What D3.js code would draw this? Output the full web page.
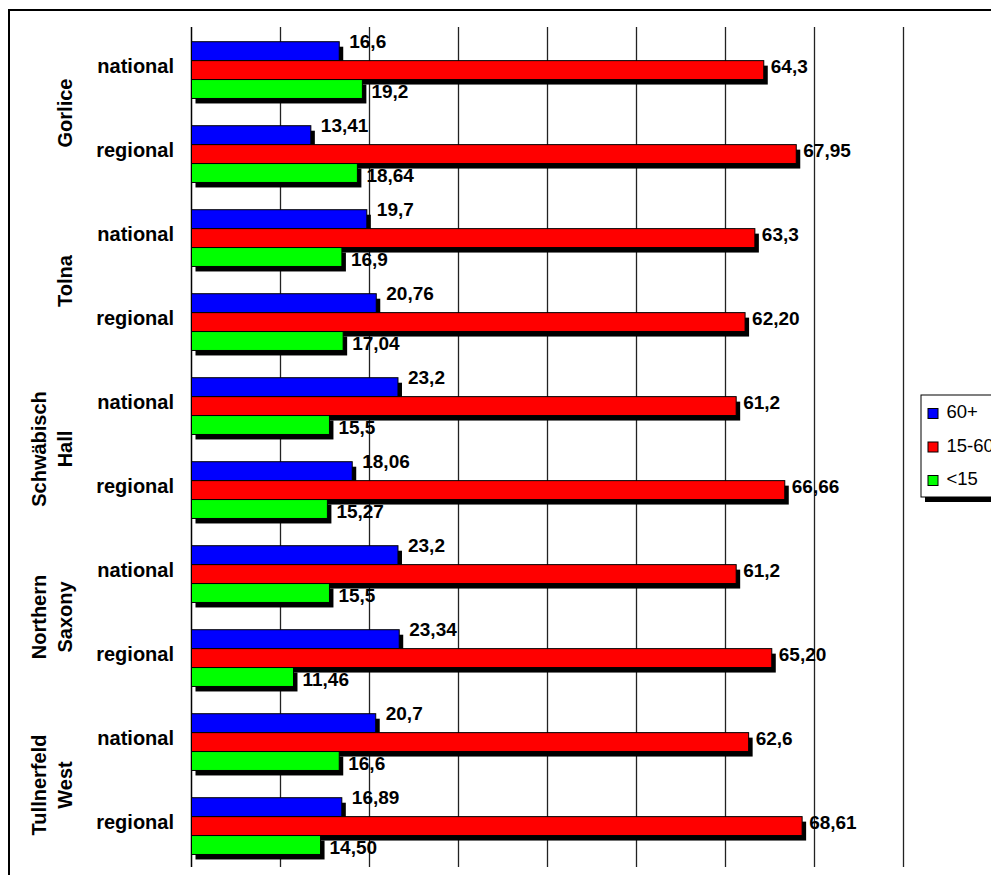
<!DOCTYPE html>
<html>
<head>
<meta charset="utf-8">
<script src="https://cdn.jsdelivr.net/npm/d3@7"></script>
<style>
  body { margin: 0; background: #fff; }
  text { font-family: "Liberation Sans", Arial, sans-serif; }
</style>
</head>
<body>
<div id="chart"></div>
<script>
// regions, each one shown twice (national / regional figures)
var regions = ["Gorlice", "Tolna", "Schwäbisch Hall", "Northern Saxony", "Tullnerfeld West"];
var levels = ["national", "regional"];
var series = ["60+", "15-60", "<15"];
var colors = ["#0000ff", "#ff0000", "#00ff00"];

// values per category row, top to bottom
var old60 = [16.6, 13.41, 19.7, 20.76, 23.2, 18.06, 23.2, 23.34, 20.7, 16.89];
var mid1560 = [64.3, 67.95, 63.3, 62.20, 61.2, 66.66, 61.2, 65.20, 62.6, 68.61];
var young15 = [19.2, 18.64, 16.9, 17.04, 15.5, 15.27, 15.5, 11.46, 16.6, 14.50];
var xTicks = [0, 10, 20, 30, 40, 50, 60, 70, 80];

var W = 991, H = 875;
var svg = d3.select("#chart").append("svg")
  .attr("width", W).attr("height", H);

// outer chart frame (runs off the right and bottom of the picture)
svg.append("rect")
  .attr("x", 9).attr("y", 10)
  .attr("width", 1000).attr("height", 900)
  .attr("fill", "#fff").attr("stroke", "#000").attr("stroke-width", 2);

// build rows
var rows = [];
regions.forEach(function(r, gi) {
  levels.forEach(function(l, li) {
    var i = gi * 2 + li;
    rows.push({ id: r + "|" + l, region: r, level: l,
                vals: [old60[i], mid1560[i], young15[i]] });
  });
});

var x = d3.scaleLinear().domain([0, 80]).range([191.5, 903.5]);
var y0 = d3.scaleBand().domain(rows.map(function(d) { return d.id; }))
  .range([27, 867]).padding(0);
var y1 = d3.scaleBand().domain(series).range([0, y0.bandwidth()])
  .paddingInner(0).paddingOuter(0.72).align(0.54);

// gridlines
svg.append("g")
  .selectAll("line")
  .data(xTicks.slice(1))
  .enter().append("line")
    .attr("x1", function(d) { return x(d); })
    .attr("x2", function(d) { return x(d); })
    .attr("y1", 27).attr("y2", 867)
    .attr("stroke", "#222").attr("stroke-width", 1.3);

// category axis line
svg.append("line")
  .attr("x1", x(0)).attr("x2", x(0))
  .attr("y1", 27).attr("y2", 867)
  .attr("stroke", "#000").attr("stroke-width", 1.5);

// bars with drop shadows, one series after the other per row
var fmt1 = d3.format(".1f"), fmt2 = d3.format(".2f");
var labelDy = [6, 12, 18.5];
var labelDx = [10, 7, 9];

var rowG = svg.selectAll("g.row")
  .data(rows)
  .enter().append("g")
    .attr("class", "row")
    .attr("transform", function(d) { return "translate(0," + y0(d.id) + ")"; });

series.forEach(function(s, si) {
  rowG.append("rect")
    .attr("x", x(0) + 4)
    .attr("y", y1(s) + 5)
    .attr("width", function(d) { return x(d.vals[si]) - x(0); })
    .attr("height", y1.bandwidth())
    .attr("fill", "#000");
  rowG.append("rect")
    .attr("x", x(0))
    .attr("y", y1(s))
    .attr("width", function(d) { return x(d.vals[si]) - x(0); })
    .attr("height", y1.bandwidth())
    .attr("fill", colors[si])
    .attr("stroke", "#000").attr("stroke-width", 1);
});

// value labels
series.forEach(function(s, si) {
  rowG.append("text")
    .attr("x", function(d) { return x(d.vals[si]) + labelDx[si]; })
    .attr("y", y1(s) + labelDy[si])
    .attr("font-size", "19px").attr("font-weight", "bold")
    .text(function(d) {
      var f = d.level === "national" ? fmt1 : fmt2;
      return f(d.vals[si]).replace(".", ",");
    });
});

// level labels
rowG.append("text")
  .attr("x", 174)
  .attr("y", y0.bandwidth() / 2 + 4)
  .attr("text-anchor", "end")
  .attr("font-size", "20px").attr("font-weight", "bold")
  .text(function(d) { return d.level; });

// region labels, rotated
regions.forEach(function(r, gi) {
  var cy = y0(r + "|national") + y0.bandwidth() + 2;
  var lines = r.split(" ");
  var t = svg.append("text")
    .attr("transform", "translate(72," + cy + ") rotate(-90)")
    .attr("text-anchor", "middle")
    .attr("font-size", "20px").attr("font-weight", "bold");
  lines.forEach(function(ln, k) {
    t.append("tspan")
      .attr("x", 0)
      .attr("y", -(lines.length - 1 - k) * 26.5)
      .text(ln);
  });
});

// legend
var lg = svg.append("g");
lg.append("rect")
  .attr("x", 925).attr("y", 400).attr("width", 100).attr("height", 102)
  .attr("fill", "#000");
lg.append("rect")
  .attr("x", 921).attr("y", 395).attr("width", 100).attr("height", 102)
  .attr("fill", "#fff").attr("stroke", "#000").attr("stroke-width", 1);
series.forEach(function(s, si) {
  var yy = 408.5 + si * 33.5;
  lg.append("rect")
    .attr("x", 928).attr("y", yy).attr("width", 10).attr("height", 10)
    .attr("fill", colors[si]).attr("stroke", "#000").attr("stroke-width", 1);
  lg.append("text")
    .attr("x", 946.5).attr("y", yy + 9.5)
    .attr("font-size", "18.5px")
    .text(s);
});
</script>
</body>
</html>
